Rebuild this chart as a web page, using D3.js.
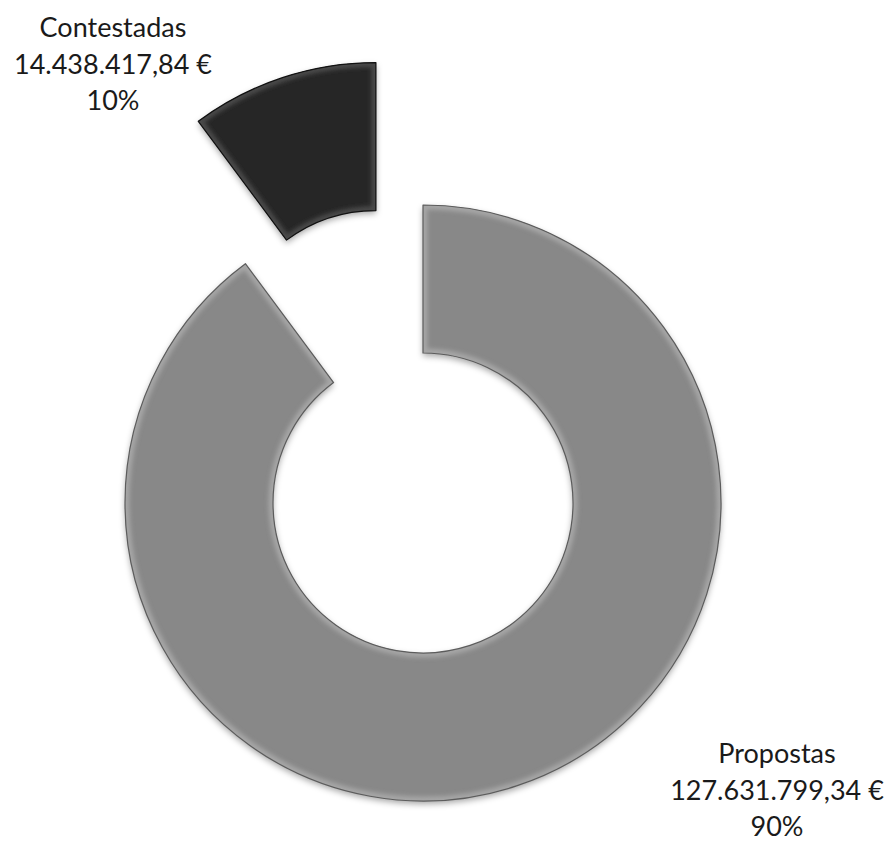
<!DOCTYPE html>
<html>
<head>
<meta charset="utf-8">
<script src="https://cdn.jsdelivr.net/npm/d3@7"></script>
<style>
  body { margin: 0; background: #fff; }
  text { font-family: Lato, "Open Sans", sans-serif; fill: #1a1a1a; }
</style>
</head>
<body>
<div id="chart"></div>
<script>
// chart data
var categories = ["Propostas", "Contestadas"];
var values = [127631799.34, 14438417.84];
var valueLabels = ["127.631.799,34 €", "14.438.417,84 €"];
var percentLabels = ["90%", "10%"];

var width = 889,
    height = 841,
    cx = 423,
    cy = 503,
    outerR = 298,
    innerR = 150,
    explode = [0, 150];

var colors = ["#888888", "#262626"],
    lights = ["#a6a6a6", "#4a4a4a"],
    edges = ["#5c5c5c", "#111111"];

var svg = d3.select("#chart").append("svg")
    .attr("width", width)
    .attr("height", height);

var defs = svg.append("defs");

var shadow = defs.append("filter")
    .attr("id", "shadow")
    .attr("x", "-20%").attr("y", "-20%")
    .attr("width", "140%").attr("height", "140%");
shadow.append("feDropShadow")
    .attr("dx", 0).attr("dy", 3)
    .attr("stdDeviation", 3)
    .attr("flood-color", "#000")
    .attr("flood-opacity", 0.35);

defs.append("filter")
    .attr("id", "soft")
    .append("feGaussianBlur")
    .attr("stdDeviation", 2.2);

var pie = d3.pie().sort(null).startAngle(0).endAngle(2 * Math.PI);
var arc = d3.arc().innerRadius(innerR).outerRadius(outerR);

var slices = pie(values);

var g = svg.append("g").attr("transform", "translate(" + cx + "," + cy + ")");

var slice = g.selectAll("g.slice")
    .data(slices)
    .enter()
    .append("g")
    .attr("class", "slice")
    .attr("transform", function(d, i) {
        var mid = (d.startAngle + d.endAngle) / 2;
        var dx = Math.sin(mid) * explode[i],
            dy = -Math.cos(mid) * explode[i];
        return "translate(" + dx + "," + dy + ")";
    });

slice.each(function(d, i) {
    var s = d3.select(this);

    s.append("clipPath")
        .attr("id", "clip" + i)
        .append("path")
        .attr("d", arc(d));

    s.append("path")
        .attr("d", arc(d))
        .attr("fill", colors[i])
        .attr("filter", "url(#shadow)");

    // bevel highlight along the edge
    s.append("path")
        .attr("d", arc(d))
        .attr("fill", "none")
        .attr("stroke", lights[i])
        .attr("stroke-width", 9)
        .attr("clip-path", "url(#clip" + i + ")")
        .attr("filter", "url(#soft)");

    s.append("path")
        .attr("d", arc(d))
        .attr("fill", "none")
        .attr("stroke", edges[i])
        .attr("stroke-width", 1.2)
        .attr("stroke-linejoin", "round");
});

// labels
var labelPos = [[777, 763], [113, 37]];
var lineH = 36.5;

categories.forEach(function(c, i) {
    var t = svg.append("text")
        .attr("text-anchor", "middle")
        .attr("font-size", 27);
    [c, valueLabels[i], percentLabels[i]].forEach(function(line, k) {
        t.append("tspan")
            .attr("x", labelPos[i][0])
            .attr("y", labelPos[i][1] + k * lineH)
            .text(line);
    });
});
</script>
</body>
</html>
